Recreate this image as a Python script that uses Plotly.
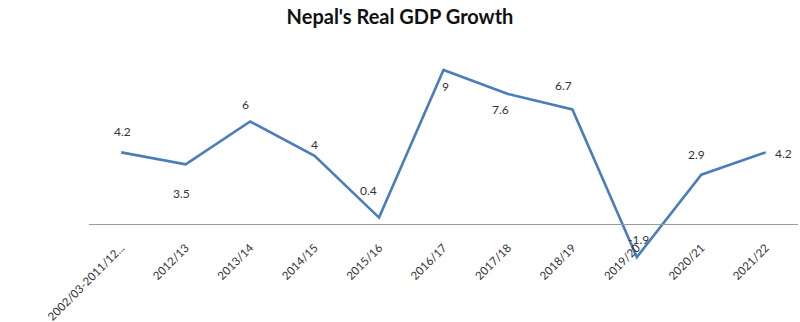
import plotly.graph_objects as go

# Fiscal years and real GDP growth (%)
years = ["2002/03-2011/12...", "2012/13", "2013/14", "2014/15", "2015/16",
         "2016/17", "2017/18", "2018/19", "2019/20", "2020/21", "2021/22"]
growth = [4.2, 3.5, 6, 4, 0.4, 9, 7.6, 6.7, -1.9, 2.9, 4.2]

# Pixel nudges for each value label (x right, y up)
label_dx = [1, -4, -5, 0, -11, 2, -7, -9, 2, -5, 18]
label_dy = [21, -29, 17, 11, 27, -17, -15, 24, 18, 20, -1]

y_min, y_max = -3.349, 10.163

fig = go.Figure()
fig.add_trace(go.Scatter(
    x=years, y=growth, mode="lines",
    line=dict(color="#4A7EBB", width=2.6),
    hoverinfo="skip",
))

for x, v, dx, dy in zip(years, growth, label_dx, label_dy):
    fig.add_annotation(
        x=x, y=v, xref="x", yref="y", text=str(v), showarrow=False,
        xshift=dx, yshift=dy,
        font=dict(family="Lato, Open Sans, sans-serif", size=12, color="#333333"),
    )

fig.update_layout(
    width=800, height=322,
    margin=dict(l=89, r=2, t=50, b=40, autoexpand=False),
    paper_bgcolor="white", plot_bgcolor="white",
    showlegend=False,
    title=dict(
        text="<b>Nepal's Real GDP Growth</b>",
        x=0.5, xanchor="center", y=0.948, yanchor="middle",
        font=dict(family="Lato, Open Sans, sans-serif", size=20, color="#111111"),
    ),
    xaxis=dict(
        type="category",
        range=[-0.5, len(years) - 0.5],
        anchor="free",
        position=(0 - y_min) / (y_max - y_min),
        automargin=False,
        showline=True, linecolor="#9A9A9A", linewidth=1.2,
        showgrid=False, zeroline=False,
        ticks="", tickangle=-45,
        ticklabelstandoff=11,
        tickfont=dict(family="Lato, Open Sans, sans-serif", size=11.5, color="#333333"),
    ),
    yaxis=dict(
        range=[y_min, y_max], automargin=False,
        visible=False, showgrid=False, zeroline=False,
    ),
)

fig.write_html("out.html")
